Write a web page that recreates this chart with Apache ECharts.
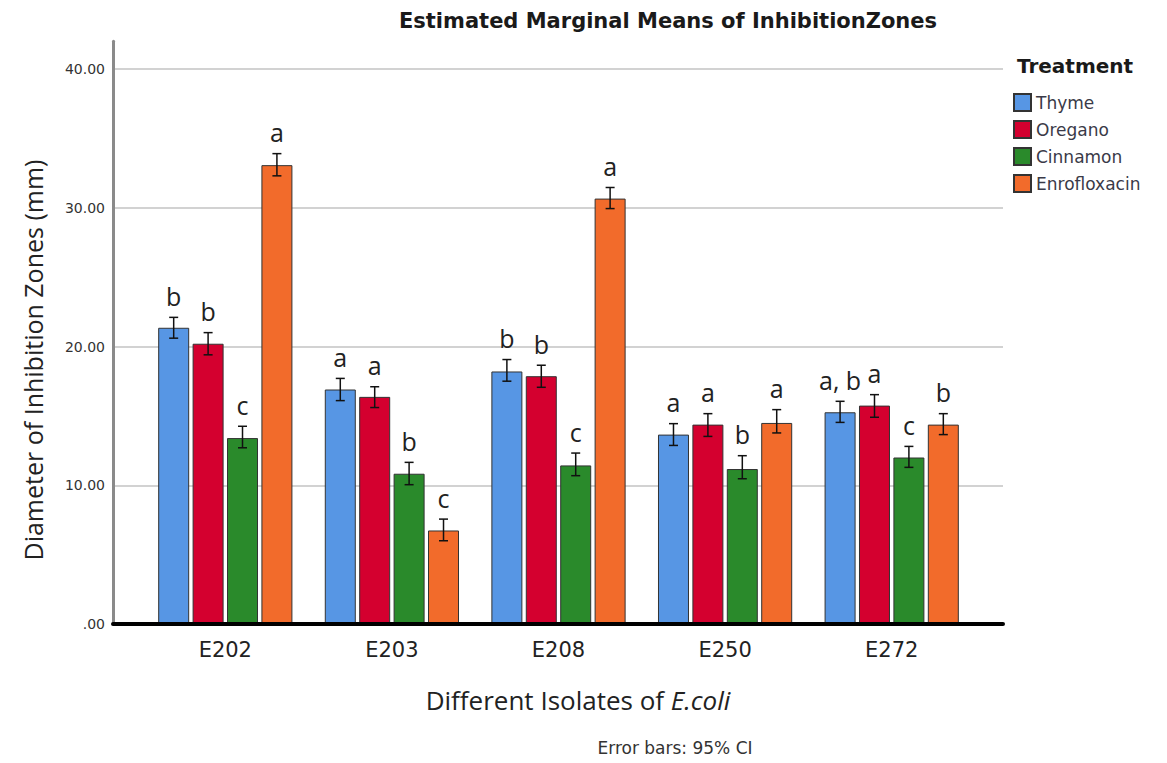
<!DOCTYPE html>
<html>
<head>
<meta charset="utf-8">
<script src="https://cdn.jsdelivr.net/npm/echarts@6/dist/echarts.min.js"></script>
<style>
  html, body { margin: 0; padding: 0; background: #fff; }
  #chart { width: 1167px; height: 763px; }
</style>
</head>
<body>
<div id="chart"></div>
<script>
// Isolates on the x axis
const isolates = ['E202', 'E203', 'E208', 'E250', 'E272'];
const treatments = ['Thyme', 'Oregano', 'Cinnamon', 'Enrofloxacin'];

// Estimated marginal means (mm)
const thyme    = [21.35, 16.90, 18.20, 13.65, 15.26];
const oregano  = [20.20, 16.37, 17.86, 14.37, 15.74];
const cinnamon = [13.40, 10.83, 11.43, 11.17, 12.00];
const enro     = [33.07,  6.74, 30.66, 14.49, 14.37];

// 95% confidence limits
const thymeLo    = [20.60, 16.10, 17.50, 12.87, 14.53];
const thymeHi    = [22.10, 17.70, 19.06, 14.44, 16.05];
const oreganoLo  = [19.40, 15.60, 17.06, 13.52, 14.90];
const oreganoHi  = [21.00, 17.10, 18.65, 15.16, 16.53];
const cinnamonLo = [12.70, 10.04, 10.69, 10.47, 11.29];
const cinnamonHi = [14.25, 11.65, 12.32, 12.13, 12.80];
const enroLo     = [32.30,  6.00, 29.94, 13.77, 13.65];
const enroHi     = [33.90,  7.56, 31.46, 15.45, 15.16];

// Significance letters
const thymeLetters    = ['b', 'a', 'b', 'a', 'a, b'];
const oreganoLetters  = ['b', 'a', 'b', 'a', 'a'];
const cinnamonLetters = ['c', 'b', 'c', 'b', 'c'];
const enroLetters     = ['a', 'c', 'a', 'a', 'b'];

// Y axis ticks
const yTicks = [0, 10, 20, 30, 40];
const yMax = 42;

const colors = ['#5796E4', '#D4002F', '#2A8A2B', '#F26B2B'];
const means  = [thyme, oregano, cinnamon, enro];
const lows   = [thymeLo, oreganoLo, cinnamonLo, enroLo];
const highs  = [thymeHi, oreganoHi, cinnamonHi, enroHi];
const letters = [thymeLetters, oreganoLetters, cinnamonLetters, enroLetters];

const BAR_W = 31;
const BAR_GAP = 0.11;          // fraction of bar width
const STEP = BAR_W * (1 + BAR_GAP);

const chart = echarts.init(document.getElementById('chart'), null, { renderer: 'svg' });

const series = [];
treatments.forEach((name, i) => {
  series.push({
    name: name,
    type: 'bar',
    xAxisIndex: 1,
    yAxisIndex: 1,
    barWidth: BAR_W,
    barGap: (BAR_GAP * 100) + '%',
    itemStyle: { color: colors[i], borderColor: '#333', borderWidth: 1 },
    data: means[i],
    z: 2
  });
});

// Error bars with letters above them
treatments.forEach((name, i) => {
  series.push({
    name: name + ' CI',
    type: 'custom',
    xAxisIndex: 1,
    yAxisIndex: 1,
    z: 5,
    silent: true,
    data: isolates.map((_, k) => [k, lows[i][k], highs[i][k], letters[i][k]]),
    renderItem: function (params, api) {
      const lo = api.coord([api.value(0), api.value(1)]);
      const hi = api.coord([api.value(0), api.value(2)]);
      const x = lo[0] + (i - 1.5) * STEP;
      const cap = 4.5;
      const lineStyle = { stroke: '#111', lineWidth: 1.5 };
      return {
        type: 'group',
        children: [
          { type: 'line', shape: { x1: x, y1: lo[1], x2: x, y2: hi[1] }, style: lineStyle },
          { type: 'line', shape: { x1: x - cap, y1: lo[1], x2: x + cap, y2: lo[1] }, style: lineStyle },
          { type: 'line', shape: { x1: x - cap, y1: hi[1], x2: x + cap, y2: hi[1] }, style: lineStyle },
          {
            type: 'text',
            style: {
              x: x, y: hi[1] - 9,
              text: api.value(3),
              align: 'center', verticalAlign: 'bottom',
              fontFamily: 'Open Sans', fontSize: 25, fill: '#222'
            }
          }
        ]
      };
    }
  });
});

const option = {
  backgroundColor: '#fff',
  animation: false,
  grid: [
    { left: 113, right: 164, top: 624 - yMax * 13.875, bottom: 139 },
    { left: 142, right: 192, top: 624 - yMax * 13.875, bottom: 139 }
  ],
  xAxis: [
    {
      gridIndex: 0, type: 'value', min: 0, max: 1, z: 10,
      axisLine: { show: true, lineStyle: { color: '#000', width: 4 } },
      axisTick: { show: false }, axisLabel: { show: false }, splitLine: { show: false }
    },
    {
      gridIndex: 1, type: 'category', data: isolates,
      axisLine: { show: false }, axisTick: { show: false },
      axisLabel: { margin: 15, fontFamily: 'DejaVu Sans', fontSize: 21, color: '#222' }
    }
  ],
  yAxis: [
    {
      gridIndex: 0, type: 'value', min: 0, max: yMax, interval: 10,
      axisLine: { show: true, lineStyle: { color: '#8a8a8a', width: 3 } },
      axisTick: { show: false },
      axisLabel: {
        margin: 8, fontFamily: 'DejaVu Sans', fontSize: 14, color: '#333',
        showMaxLabel: false,
        formatter: v => (yTicks.indexOf(v) < 0 ? '' : (v === 0 ? '.00' : v.toFixed(2)))
      },
      splitLine: { show: true, showMaxLine: false, lineStyle: { color: '#d2d2d2', width: 2 } }
    },
    {
      gridIndex: 1, type: 'value', min: 0, max: yMax, show: false,
      splitLine: { show: false }
    }
  ],
  legend: {
    data: treatments,
    orient: 'vertical',
    left: 1008, top: 88,
    icon: 'rect',
    itemWidth: 17, itemHeight: 17, itemGap: 8,
    textStyle: { fontFamily: 'DejaVu Sans', fontSize: 17, color: '#3a3a48' }
  },
  graphic: [
    {
      type: 'text', x: 668, y: 21,
      style: {
        text: 'Estimated Marginal Means of InhibitionZones',
        align: 'center', verticalAlign: 'middle',
        fontFamily: 'DejaVu Sans', fontWeight: 'bold', fontSize: 21, fill: '#1a1a1a'
      }
    },
    {
      type: 'text', x: 1017, y: 66,
      style: {
        text: 'Treatment', align: 'left', verticalAlign: 'middle',
        fontFamily: 'DejaVu Sans', fontWeight: 'bold', fontSize: 20, fill: '#1a1a1a'
      }
    },
    {
      type: 'text', x: 33, y: 360, rotation: Math.PI / 2,
      style: {
        text: 'Diameter of Inhibition Zones (mm)', align: 'center', verticalAlign: 'middle',
        fontFamily: 'Open Sans', fontSize: 25, fill: '#222'
      }
    },
    {
      type: 'text', x: 578, y: 700,
      style: {
        text: '{n|Different Isolates of }{i|E.coli}',
        align: 'center', verticalAlign: 'middle',
        rich: {
          n: { fontFamily: 'Open Sans', fontSize: 26, fill: '#222', color: '#222' },
          i: { fontFamily: 'Open Sans', fontSize: 26, fontStyle: 'italic', fill: '#222', color: '#222' }
        }
      }
    },
    {
      type: 'text', x: 675, y: 748,
      style: {
        text: 'Error bars: 95% CI', align: 'center', verticalAlign: 'middle',
        fontFamily: 'DejaVu Sans', fontSize: 17, fill: '#333'
      }
    }
  ],
  series: series
};

chart.setOption(option);
</script>
</body>
</html>
